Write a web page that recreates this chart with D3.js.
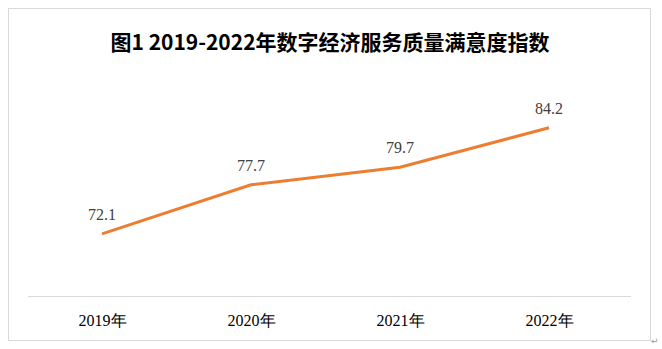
<!DOCTYPE html>
<html>
<head>
<meta charset="utf-8">
<script src="https://cdn.jsdelivr.net/npm/d3@7"></script>
<style>
html,body{margin:0;padding:0;background:#fff;}
svg{display:block;}
</style>
</head>
<body>
<svg id="chart" width="662" height="349"></svg>
<script>
const categories = ["2019年", "2020年", "2021年", "2022年"];
const values = [72.1, 77.7, 79.7, 84.2];
const titleText = "图1 2019-2022年数字经济服务质量满意度指数";

const svg = d3.select("#chart");

// outer frame
svg.append("rect")
  .attr("x", 8.5).attr("y", 8.5)
  .attr("width", 642).attr("height", 332)
  .attr("fill", "#fff").attr("stroke", "#d9d9d9").attr("stroke-width", 1);

// corner mark
svg.append("text")
  .attr("x", 651).attr("y", 344)
  .attr("font-family", "'DejaVu Sans', sans-serif")
  .attr("font-size", 9).attr("fill", "#999")
  .text("↵");

// title
svg.append("text")
  .attr("x", 330).attr("y", 50)
  .attr("text-anchor", "middle")
  .attr("font-family", "'Noto Sans CJK SC', sans-serif")
  .attr("font-weight", "bold")
  .attr("font-size", 21)
  .attr("fill", "#000")
  .text(titleText);

const x = d3.scalePoint().domain(categories).range([102, 549]);
const y = d3.scaleLinear().domain([65, 90]).range([296, 77]);

// axis line
svg.append("line")
  .attr("x1", 28).attr("x2", 631)
  .attr("y1", y(65) + 0.5).attr("y2", y(65) + 0.5)
  .attr("stroke", "#d9d9d9").attr("stroke-width", 1);

// category labels
const xAxis = d3.axisBottom(x).tickSize(0).tickPadding(0);
const gx = svg.append("g").attr("transform", `translate(0,${y(65)})`).call(xAxis);
gx.select(".domain").remove();
gx.selectAll("text")
  .attr("dy", 0).attr("y", 30)
  .attr("font-family", "'Liberation Serif', 'Times New Roman', serif")
  .attr("font-size", 16)
  .attr("fill", "#000");

const data = categories.map((c, i) => ({c, v: values[i]}));

svg.append("path")
  .datum(data)
  .attr("fill", "none")
  .attr("stroke", "#ED7D31")
  .attr("stroke-width", 3)
  .attr("d", d3.line().x(d => x(d.c)).y(d => y(d.v)));

svg.selectAll(".lbl")
  .data(data).enter().append("text")
  .attr("class", "lbl")
  .attr("x", d => x(d.c))
  .attr("y", d => y(d.v) - 14)
  .attr("text-anchor", "middle")
  .attr("font-family", "'Liberation Serif', 'Times New Roman', serif")
  .attr("font-size", 16)
  .attr("fill", "#404040")
  .text(d => d.v.toFixed(1));
</script>
</body>
</html>
